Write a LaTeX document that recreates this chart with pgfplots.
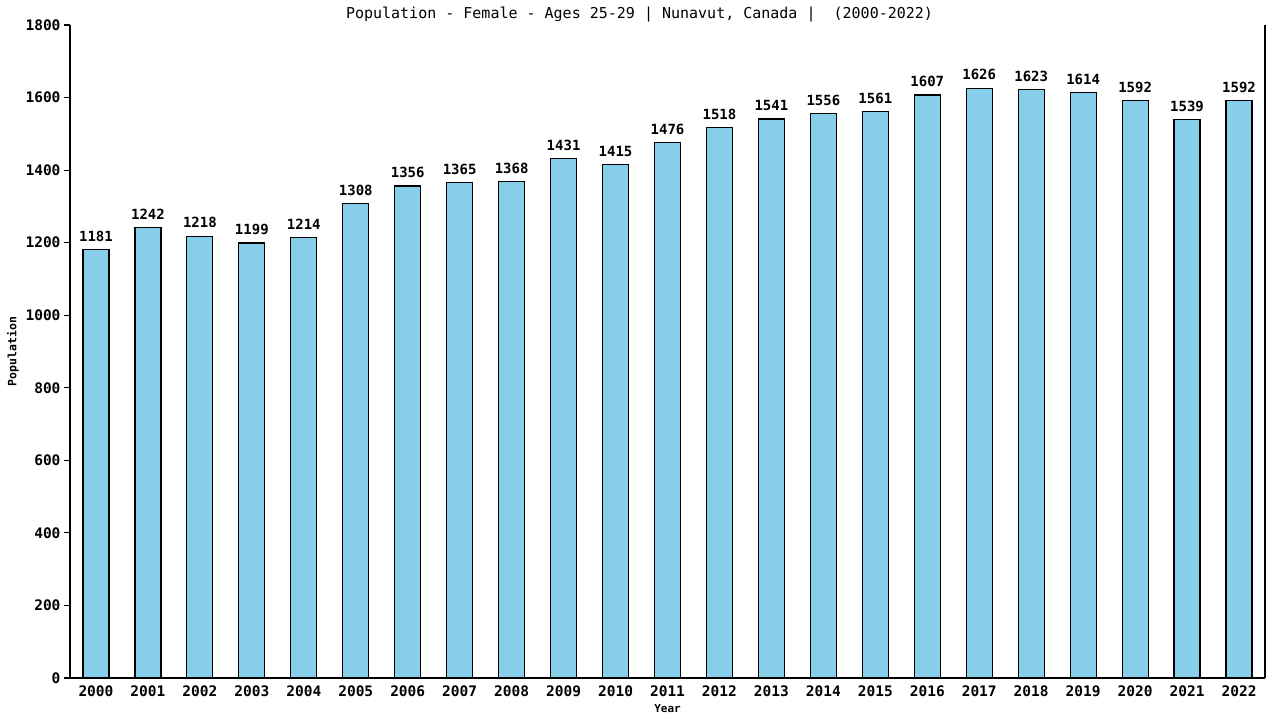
\documentclass[border=0pt]{standalone}
\usepackage{pgfplots}
\pgfplotsset{compat=1.18}
\usepackage{fontspec}
\setmainfont{DejaVu Sans Mono}
\definecolor{barblue}{HTML}{87CEEB}
\begin{document}
\begin{tikzpicture}[x=1pt,y=1pt]
\path[use as bounding box] (0,0) rectangle (1280,720);
\begin{axis}[
  at={(70pt,42pt)}, anchor=south west,
  scale only axis, width=1195pt, height=653pt,
  xmin=-0.5, xmax=22.5, ymin=0, ymax=1800,
  axis x line*=bottom, axis y line*=box,
  ytick pos=left,
  ytick={0,200,...,1800},
  xtick={0,...,22},
  xticklabels={2000,2001,2002,2003,2004,2005,2006,2007,2008,2009,2010,2011,2012,2013,2014,2015,2016,2017,2018,2019,2020,2021,2022},
  major x tick style={draw=none},
  tick align=outside, major tick length=6pt,
  ticklabel style={font=\fontsize{14.5}{16}\selectfont\bfseries},
  xticklabel style={yshift=2pt},
  /pgf/number format/assume math mode=true,
  yticklabel style={/pgf/number format/1000 sep={}},
  axis line style={black, line width=1.2pt},
  tick style={black, line width=1.2pt},
  title={Population - Female - Ages 25-29 | Nunavut, Canada |\ \ (2000-2022)},
  title style={font=\fontsize{15}{17}\selectfont, at={(0.4766,1)}, anchor=center, yshift=4pt},
  xlabel={\bfseries Year},
  xlabel style={font=\fontsize{11}{13}\selectfont, yshift=-1pt},
  ylabel={\bfseries Population},
  ylabel style={font=\fontsize{11.5}{13}\selectfont, at={(axis description cs:0,0.5)}, anchor=center, yshift=57pt},
  nodes near coords,
  nodes near coords style={font=\fontsize{14}{16}\selectfont\bfseries, /pgf/number format/assume math mode=true, /pgf/number format/1000 sep={}, yshift=4pt},
  clip=false,
]
\addplot[ybar, bar width=26pt, fill=barblue, draw=black, line width=1.2pt] coordinates {
(0,1181) (1,1242) (2,1218) (3,1199) (4,1214) (5,1308) (6,1356) (7,1365)
(8,1368) (9,1431) (10,1415) (11,1476) (12,1518) (13,1541) (14,1556) (15,1561)
(16,1607) (17,1626) (18,1623) (19,1614) (20,1592) (21,1539) (22,1592)};
\end{axis}
\end{tikzpicture}
\end{document}
